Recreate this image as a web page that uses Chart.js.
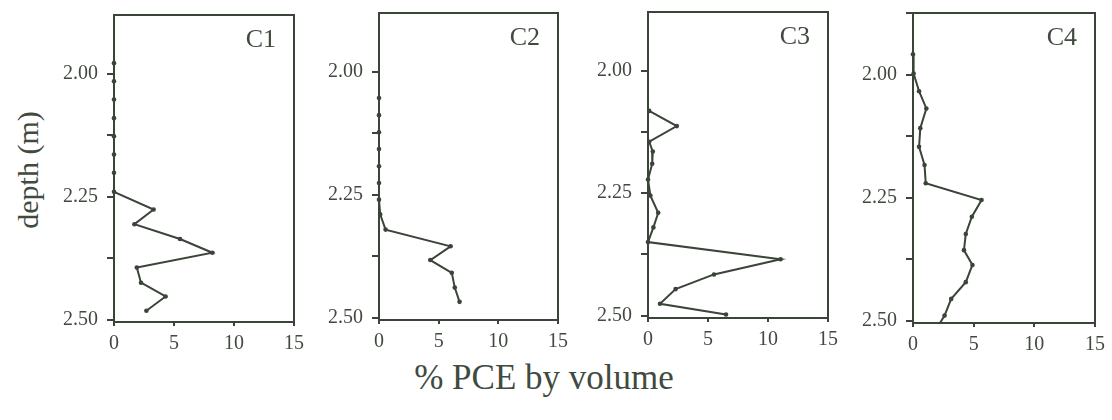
<!DOCTYPE html>
<html>
<head>
<meta charset="utf-8">
<title>PCE depth profiles</title>
<script src="https://cdn.jsdelivr.net/npm/chart.js@4.4.1/dist/chart.umd.min.js"></script>
<style>
  html, body { margin: 0; padding: 0; background: #fff; }
  body { width: 1112px; height: 420px; position: relative; overflow: hidden;
         font-family: "Liberation Serif", "DejaVu Serif", serif; color: #414a3f; }
  .panel { position: absolute; }
  .ylab { position: absolute; left: 28px; top: 170px; font-size: 30px;
          transform: translate(-50%, -50%) rotate(-90deg); white-space: nowrap; }
  .xlab { position: absolute; left: 544px; top: 378px; font-size: 35px;
          transform: translate(-50%, -50%); white-space: nowrap; }
</style>
</head>
<body>
<div class="panel" id="p1"><canvas id="c1"></canvas></div>
<div class="panel" id="p2"><canvas id="c2"></canvas></div>
<div class="panel" id="p3"><canvas id="c3"></canvas></div>
<div class="panel" id="p4"><canvas id="c4"></canvas></div>
<div class="ylab">depth (m)</div>
<div class="xlab">% PCE by volume</div>
<script>
// core profiles: depth (m) and PCE (% by volume)
const c1Depth = [1.978, 2.015, 2.052, 2.09, 2.127, 2.164, 2.201, 2.24, 2.276, 2.306, 2.336, 2.364, 2.394, 2.425, 2.453, 2.482];
const c1Pce   = [0, 0, 0, 0, 0, 0, 0, 0, 3.3, 1.7, 5.5, 8.2, 1.9, 2.25, 4.3, 2.7];

const c2Depth = [2.053, 2.088, 2.123, 2.157, 2.192, 2.226, 2.26, 2.29, 2.321, 2.355, 2.383, 2.409, 2.439, 2.468];
const c2Pce   = [0, 0, 0, 0, 0, 0, 0, 0.1, 0.55, 6.0, 4.3, 6.1, 6.35, 6.75];

const c3Depth = [2.082, 2.113, 2.145, 2.165, 2.19, 2.222, 2.255, 2.29, 2.32, 2.35, 2.385, 2.416, 2.446, 2.476, 2.498];
const c3Pce   = [0.1, 2.4, 0.1, 0.4, 0.35, 0, 0.2, 0.85, 0.45, 0, 11.05, 5.5, 2.3, 1.0, 6.5];

const c4Depth = [1.959, 1.998, 2.034, 2.069, 2.109, 2.147, 2.184, 2.221, 2.255, 2.289, 2.324, 2.357, 2.387, 2.422, 2.456, 2.49, 2.51];
const c4Pce   = [0, 0.05, 0.5, 1.1, 0.6, 0.5, 0.95, 1.05, 5.65, 4.85, 4.35, 4.2, 4.9, 4.35, 3.15, 2.6, 2.1];

const coreNames = ['C1', 'C2', 'C3', 'C4'];
const depthTicks = [2.0, 2.125, 2.25, 2.375, 2.5];
const labelledDepths = [2.0, 2.25, 2.5];
const pceTicks = [0, 5, 10, 15];

const INK = '#3a4438';
const TEXT = '#414a3f';
const FONT = '"Liberation Serif", "DejaVu Serif", serif';

// plot rectangles in page pixels
const boxes = [
  { left: 114, right: 294, top: 15, bottom: 322, min: 1.88 },
  { left: 379, right: 558, top: 13, bottom: 320, min: 1.88 },
  { left: 648, right: 828, top: 12, bottom: 318, min: 1.88 },
  { left: 913, right: 1095, top: 13, bottom: 323, min: 1.875 }
];
const Y_W = 60, X_H = 34, PAD_T = 4, PAD_R = 14;

// frame round the plot area plus the core name in the top right corner
const framePlugin = {
  id: 'frame',
  afterDraw(chart, args, opts) {
    const a = chart.chartArea, ctx = chart.ctx;
    ctx.save();
    ctx.strokeStyle = INK;
    ctx.lineWidth = 2;
    ctx.strokeRect(a.left, a.top, a.right - a.left, a.bottom - a.top);
    ctx.fillStyle = TEXT;
    ctx.font = '26px ' + FONT;
    ctx.textAlign = 'right';
    ctx.textBaseline = 'alphabetic';
    ctx.fillText(opts.name, a.right - 18, a.top + 32);
    ctx.restore();
  }
};

const series = [
  [c1Depth, c1Pce], [c2Depth, c2Pce], [c3Depth, c3Pce], [c4Depth, c4Pce]
];

series.forEach(([depth, pce], i) => {
  const b = boxes[i];
  const wrap = document.getElementById('p' + (i + 1));
  wrap.style.left = (b.left - Y_W) + 'px';
  wrap.style.top = (b.top - PAD_T) + 'px';
  wrap.style.width = (Y_W + (b.right - b.left) + PAD_R) + 'px';
  wrap.style.height = (PAD_T + (b.bottom - b.top) + X_H) + 'px';

  const ticksY = i === 3 ? [1.875].concat(depthTicks) : depthTicks;

  new Chart(document.getElementById('c' + (i + 1)), {
    type: 'scatter',
    data: {
      datasets: [{
        data: depth.map((d, k) => ({ x: pce[k], y: d })),
        showLine: true,
        borderColor: INK,
        backgroundColor: INK,
        borderWidth: 2,
        pointRadius: 2.3,
        pointBorderWidth: 0,
        clip: { left: 4, right: 4, top: 4, bottom: 0 }
      }]
    },
    options: {
      responsive: true,
      maintainAspectRatio: false,
      animation: false,
      layout: { padding: { top: PAD_T, right: PAD_R, left: 0, bottom: 0 } },
      plugins: {
        legend: { display: false },
        tooltip: { enabled: false },
        frame: { name: coreNames[i] }
      },
      scales: {
        x: {
          type: 'linear',
          min: 0,
          max: 15,
          afterBuildTicks: s => { s.ticks = pceTicks.map(v => ({ value: v })); },
          afterFit: s => {
            s.height = X_H;
            s.paddingLeft = 0;
            s.paddingRight = 0;
          },
          grid: { drawOnChartArea: false, tickLength: 4, color: INK, lineWidth: 2 },
          border: { color: INK, width: 2 },
          ticks: { color: TEXT, font: { family: FONT, size: 20 }, padding: 6, maxRotation: 0 }
        },
        y: {
          type: 'linear',
          reverse: true,
          min: b.min,
          max: 2.505,
          afterBuildTicks: s => { s.ticks = ticksY.map(v => ({ value: v })); },
          afterFit: s => {
            s.width = Y_W;
            s.paddingTop = 0;
            s.paddingBottom = 0;
          },
          grid: { drawOnChartArea: false, tickLength: 7, color: INK, lineWidth: 2 },
          border: { color: INK, width: 2 },
          ticks: {
            color: TEXT,
            font: { family: FONT, size: 20 },
            padding: 9,
            callback: v => labelledDepths.some(t => Math.abs(t - v) < 1e-6) ? v.toFixed(2) : ''
          }
        }
      }
    },
    plugins: [framePlugin]
  });
});
</script>
</body>
</html>
